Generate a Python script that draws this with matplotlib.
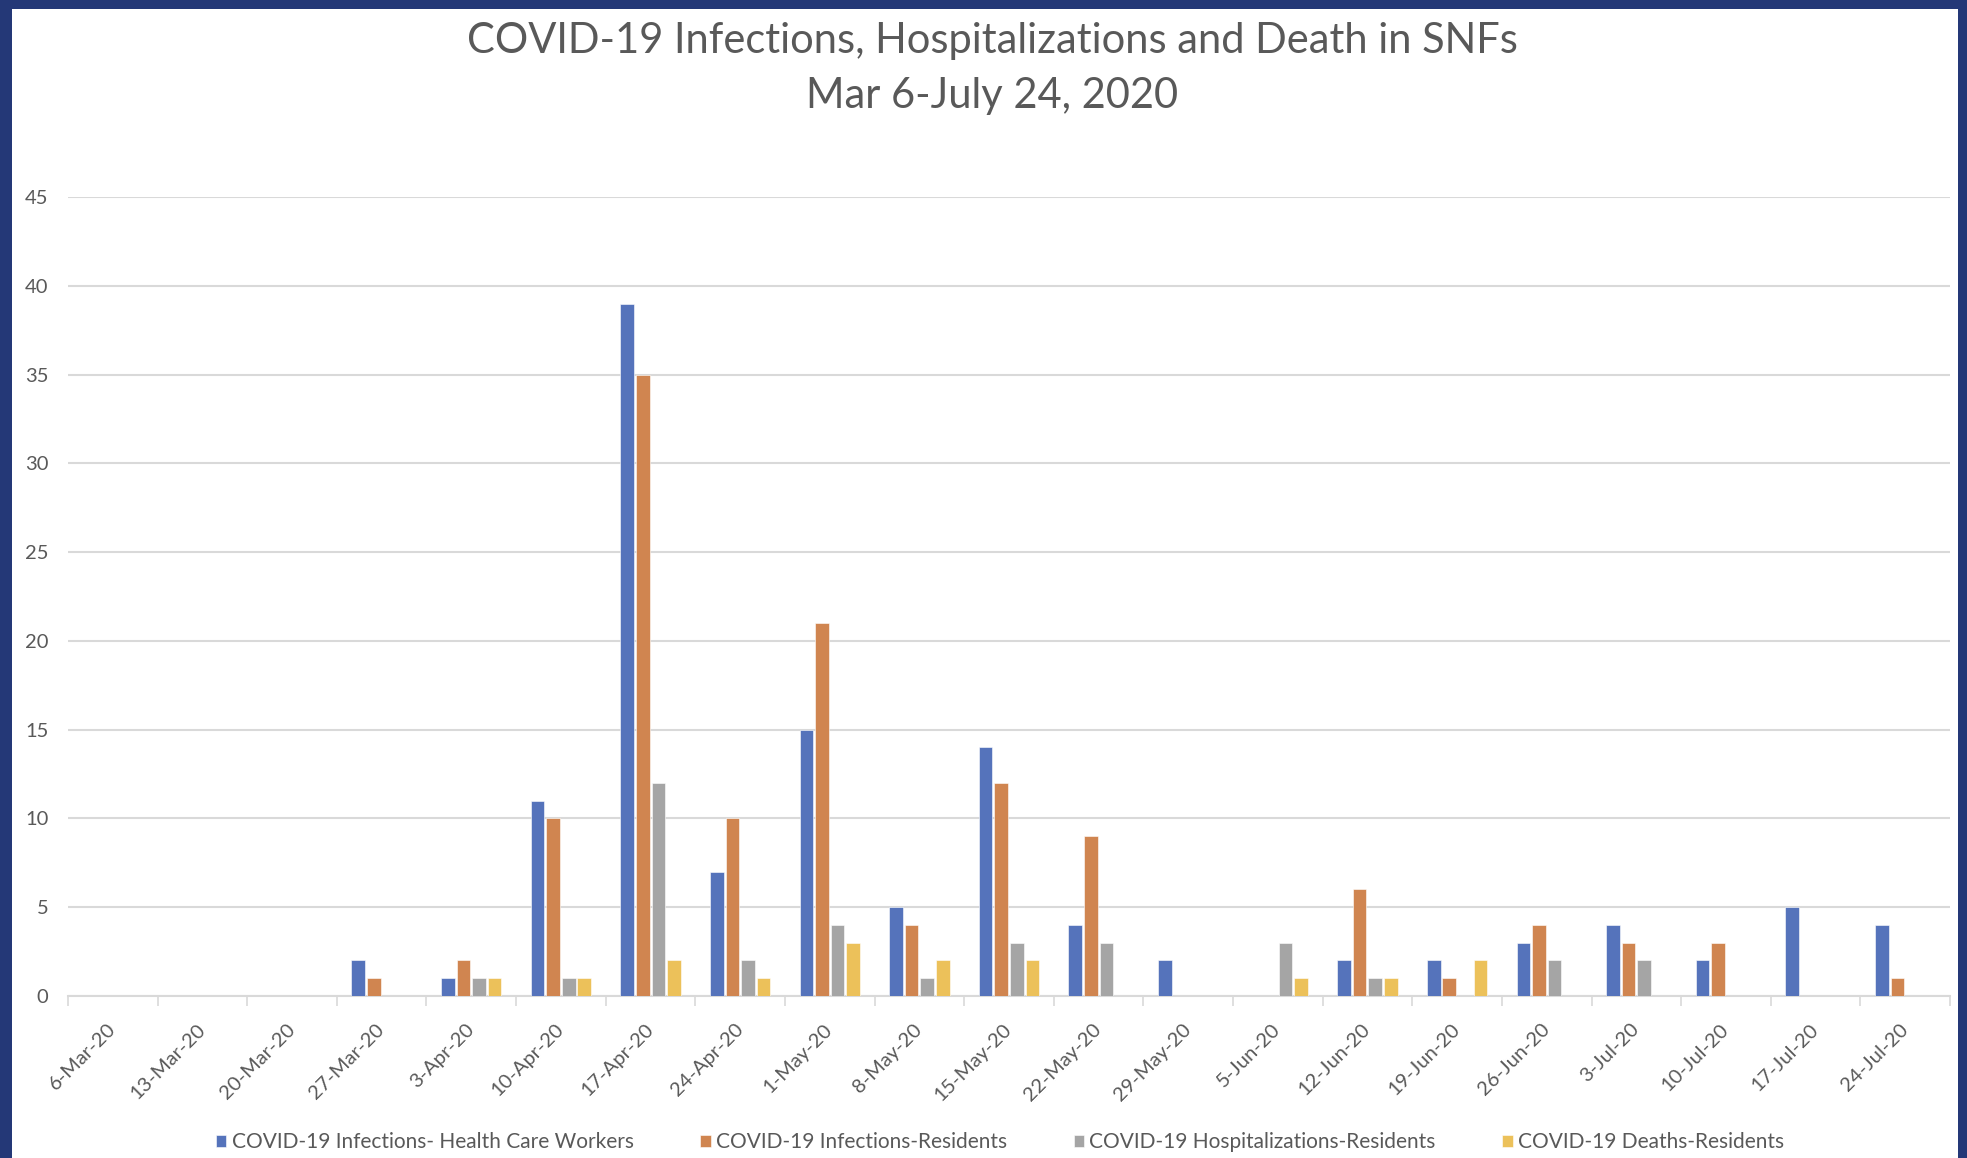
import numpy as np
import matplotlib
matplotlib.use("Agg")
import matplotlib.pyplot as plt
from matplotlib.patches import Rectangle

# weekly counts
weeks = ["6-Mar-20", "13-Mar-20", "20-Mar-20", "27-Mar-20", "3-Apr-20", "10-Apr-20",
         "17-Apr-20", "24-Apr-20", "1-May-20", "8-May-20", "15-May-20", "22-May-20",
         "29-May-20", "5-Jun-20", "12-Jun-20", "19-Jun-20", "26-Jun-20", "3-Jul-20",
         "10-Jul-20", "17-Jul-20", "24-Jul-20"]
hcw_infections = [0, 0, 0, 2, 1, 11, 39, 7, 15, 5, 14, 4, 2, 0, 2, 2, 3, 4, 2, 5, 4]
res_infections = [0, 0, 0, 1, 2, 10, 35, 10, 21, 4, 12, 9, 0, 0, 6, 1, 4, 3, 3, 0, 1]
res_hospital = [0, 0, 0, 0, 1, 1, 12, 2, 4, 1, 3, 3, 0, 3, 1, 0, 2, 2, 0, 0, 0]
res_deaths = [0, 0, 0, 0, 1, 1, 2, 1, 3, 2, 2, 0, 0, 1, 1, 2, 0, 0, 0, 0, 0]

series_names = ["COVID-19 Infections- Health Care Workers", "COVID-19 Infections-Residents",
                "COVID-19 Hospitalizations-Residents", "COVID-19 Deaths-Residents"]
colors = ["#5573bb", "#d08550", "#a5a5a5", "#ecc15a"]

W, H = 1967, 1158
plt.rcParams['font.family'] = ['Lato', 'DejaVu Sans']
fig = plt.figure(figsize=(W / 100, H / 100), dpi=100)
fig.patch.set_facecolor("#243877")
# white slide area inside the navy frame
fig.patches.append(Rectangle((12 / W, 0), (1958 - 12) / W, (H - 9) / H,
                             transform=fig.transFigure, facecolor="white",
                             edgecolor="none", zorder=-5))

ax = fig.add_axes([68 / W, 1 - 996 / H, (1950 - 68) / W, (996 - 197) / H])
ax.set_facecolor("none")
ax.set_zorder(2)

x = np.arange(len(weeks))
step = 0.174
all_series = [hcw_infections, res_infections, res_hospital, res_deaths]
for i, vals in enumerate(all_series):
    ax.bar(x + (i - 1.5) * step, vals, width=0.152, color=colors[i],
           edgecolor="white", linewidth=0.4, label=series_names[i], zorder=3)

ax.set_xlim(-0.5, len(weeks) - 0.5)
ax.set_ylim(0, 45)
ax.set_yticks(range(0, 46, 5))
ax.yaxis.grid(True, color="#d9d9d9", linewidth=1.5, zorder=0)
ax.set_axisbelow(True)
ax.tick_params(axis="y", length=0, pad=14, labelsize=14.5, labelcolor="#595959")

ax.set_xticks(x)
ax.set_xticklabels(weeks, rotation=45, ha="right", va="center", rotation_mode="anchor")
ax.tick_params(axis="x", which="major", length=0, pad=22, labelsize=14.5, labelcolor="#595959")
ax.set_xticks(np.arange(-0.5, len(weeks)), minor=True)
ax.tick_params(axis="x", which="minor", length=7, width=1.2, color="#d9d9d9")

for s in ["top", "right", "left"]:
    ax.spines[s].set_visible(False)
ax.spines["bottom"].set_color("#d9d9d9")
ax.spines["bottom"].set_linewidth(1.5)

fig.text(992 / W, 1 - 41 / H, "COVID-19 Infections, Hospitalizations and Death in SNFs",
         ha="center", va="center", fontsize=30, color="#595959")
fig.text(992 / W, 1 - 96 / H, "Mar 6-July 24, 2020",
         ha="center", va="center", fontsize=30, color="#595959")

fig.legend(loc="center", bbox_to_anchor=(1000 / W, 16 / H), ncol=4, frameon=False,
           fontsize=15, labelcolor="#595959", handlelength=0.5, handleheight=0.5,
           handletextpad=0.25, columnspacing=3.2)

fig.savefig("out.png", dpi=100, facecolor=fig.get_facecolor())
